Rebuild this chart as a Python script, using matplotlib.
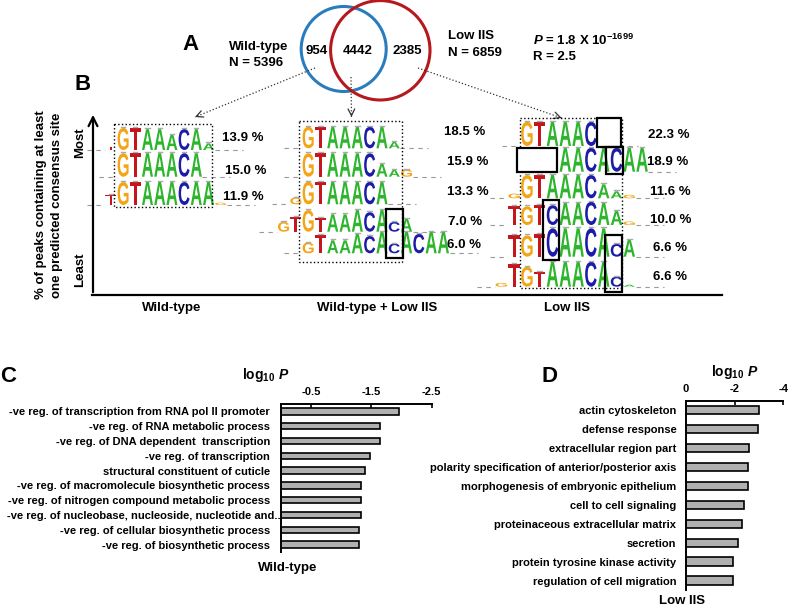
import numpy as np
import matplotlib
matplotlib.use('Agg')
import matplotlib.pyplot as plt
from matplotlib.patches import Circle, Rectangle, PathPatch
from matplotlib.textpath import TextPath
from matplotlib.font_manager import FontProperties
from matplotlib.transforms import Affine2D, ScaledTranslation

plt.rcParams['font.family'] = ['Liberation Sans', 'DejaVu Sans']
plt.rcParams['font.weight'] = 'bold'
plt.rcParams['mathtext.fontset'] = 'custom'
plt.rcParams['mathtext.rm'] = 'Liberation Sans:bold'
plt.rcParams['mathtext.it'] = 'Liberation Sans:italic:bold'
plt.rcParams['mathtext.bf'] = 'Liberation Sans:bold'

# ---- data ----
venn_counts = ['954', '4442', '2385']
wt_n = 5396
low_n = 6859

wt_motifs = ['TGTAAACAA', 'GTAAACA', 'TGTAAACAAG']
wt_start = [-1, 0, -1]
wt_heights = [[0.15, 1, 1, 0.95, 0.95, 0.7, 0.95, 0.95, 0.3],
              [1, 1, 1, 1, 1, 1, 1],
              [0.45, 1, 1, 1, 1, 1, 1, 1, 1, 0.1]]
wt_pct = [13.9, 15.0, 11.9]

both_motifs = ['GTAAACAA', 'GTAAACAAG', 'GGTAAACA', 'GTGTAAACACA', 'GTAAACACACAA']
both_start = [0, 0, -1, -2, 0]
both_heights = [[1, 1, 1, 1, 1, 1, 1, 0.3],
                [1, 1, 1, 1, 1, 1, 0.55, 0.3, 0.3],
                [0.3, 1, 1, 1, 1, 1, 1, 1],
                [0.45, 0.7, 1, 0.65, 0.8, 0.8, 1, 0.9, 1, 0.45, 0.6],
                [0.5, 0.85, 0.6, 0.6, 0.9, 0.8, 1, 0.45, 1, 0.9, 1, 1]]
both_pct = [18.5, 15.9, 13.3, 7.0, 6.0]

low_motifs = ['GTAAACA', 'AACACAA', 'GGTAAACAAG', 'TGTCAACAAG', 'TGTCAACACA', 'GTGTAAACACA']
low_start = [0, 3, -1, -1, -1, -2]
low_heights = [[1, 1, 1, 1, 1, 1, 0.25],
               [1, 1, 1, 1, 1, 1, 1],
               [0.2, 1, 1, 1, 1, 1, 1, 0.6, 0.3, 0.15],
               [0.8, 0.8, 0.85, 0.85, 0.95, 0.95, 1, 0.95, 0.6, 0.15],
               [0.75, 0.75, 0.8, 1, 1, 1, 1, 1, 0.45, 0.6],
               [0.15, 0.9, 0.8, 0.6, 1, 1, 1, 1, 1, 0.4, 0.08]]
low_pct = [22.3, 18.9, 11.6, 10.0, 6.6, 6.6]

go_wt_terms = ['-ve reg. of transcription from RNA pol II promoter',
               '-ve reg. of RNA metabolic process',
               '-ve reg. of DNA dependent  transcription',
               '-ve reg. of transcription',
               'structural constituent of cuticle',
               '-ve reg. of macromolecule biosynthetic process',
               '-ve reg. of nitrogen compound metabolic process',
               '-ve reg. of nucleobase, nucleoside, nucleotide and..',
               '-ve reg. of cellular biosynthetic process',
               '-ve reg. of biosynthetic process']
go_wt_logp = [-1.96, -1.64, -1.64, -1.47, -1.39, -1.32, -1.32, -1.32, -1.30, -1.30]

go_low_terms = ['actin cytoskeleton',
                'defense response',
                'extracellular region part',
                'polarity specification of anterior/posterior axis',
                'morphogenesis of embryonic epithelium',
                'cell to cell signaling',
                'proteinaceous extracellular matrix',
                'secretion',
                'protein tyrosine kinase activity',
                'regulation of cell migration']
go_low_logp = [-3.02, -2.94, -2.57, -2.54, -2.54, -2.40, -2.29, -2.15, -1.95, -1.92]

# ---- figure ----
W, H = 788, 607
fig = plt.figure(figsize=(W / 100, H / 100), dpi=100)
ax = fig.add_axes([0, 0, 1, 1])
ax.set_xlim(0, W)
ax.set_ylim(H, 0)
ax.axis('off')

base_colors = {'A': '#2db52d', 'C': '#1c1ca8', 'G': '#f2a516', 'T': '#c4161c'}
logo_font = FontProperties(family='Liberation Sans', weight='bold')


def draw_letter(ch, x, y0, w, h):
    tp = TextPath((0, 0), ch, size=1, prop=logo_font)
    bb = tp.get_extents()
    tr = Affine2D().translate(-bb.x0, -bb.y0).scale(w / bb.width, -h / bb.height).translate(x, y0)
    ax.add_patch(PathPatch(tr.transform_path(tp), fc=base_colors[ch], ec='none', zorder=3))
    if h > 6:
        ax.plot([x + w * 0.3, x + w * 0.7], [y0 - h - 1, y0 - h - 1], color='#aaaaaa', lw=1.0, zorder=4)


def draw_logos(motifs, starts, heights, pcts, x0, cw, bases, rh, px, py):
    for i in range(len(motifs)):
        for j, ch in enumerate(motifs[i]):
            col = starts[i] + j
            draw_letter(ch, x0 + col * cw + 0.05 * cw, bases[i], cw * 0.9, rh[i] * heights[i][j])
        xa = x0 + starts[i] * cw
        xb = x0 + (starts[i] + len(motifs[i])) * cw
        ax.plot([xa - 18, xa], [bases[i], bases[i]], color='#999999', lw=0.8, dashes=(4, 4), zorder=1)
        ax.plot([xb, xb + 28], [bases[i], bases[i]], color='#999999', lw=0.8, dashes=(4, 4), zorder=1)
        ax.text(px[i], py[i], '%.1f %%' % pcts[i], fontsize=9.5, ha='left', va='center')


# Panel A
ax.text(191, 45, 'A', fontsize=16, ha='center', va='center')
ax.add_patch(Circle((343.7, 49), 42.5, fc='none', ec='#2a7dbc', lw=2.2, zorder=2))
ax.add_patch(Circle((380.3, 50.3), 49.7, fc='none', ec='#b5191e', lw=2.2, zorder=2))
for xc, s in zip([316.7, 358, 407], venn_counts):
    ax.text(xc, 51, s, fontsize=9.5, ha='center', va='center')
ax.text(229, 47, 'Wild-type', fontsize=9.5, ha='left', va='center')
ax.text(229, 63, 'N = %d' % wt_n, fontsize=9.5, ha='left', va='center')
ax.text(448, 36, 'Low IIS', fontsize=9.5, ha='left', va='center')
ax.text(448, 53, 'N = %d' % low_n, fontsize=9.5, ha='left', va='center')
ax.text(533, 40, r'$P$ = 1.8 X 10$^{-1699}$', fontsize=9.5, ha='left', va='center')
ax.text(533, 57, 'R = 2.5', fontsize=9.5, ha='left', va='center')

# dotted connectors
for (xs, ys), (xt, yt) in [((315, 68), (195, 117)), ((351, 77), (351.5, 117)), ((418, 68), (561.7, 118))]:
    ax.plot([xs, xt], [ys, yt], color='#333333', lw=0.9, ls=':', zorder=2)
    ax.annotate('', xy=(xt, yt), xytext=(xt - (xt - xs) * 0.02, yt - (yt - ys) * 0.02),
                arrowprops=dict(arrowstyle='->', color='#333333', lw=0.9, mutation_scale=12))

# Panel B
ax.text(83, 85, 'B', fontsize=16, ha='center', va='center')
ax.annotate('', xy=(93, 112), xytext=(93, 295),
            arrowprops=dict(arrowstyle='->', color='black', lw=1.6, mutation_scale=16))
ax.plot([92.5, 722], [294.5, 294.5], color='black', lw=1.6)
ax.text(80, 143, 'Most', fontsize=9.5, rotation=90, ha='center', va='center')
ax.text(80, 270, 'Least', fontsize=9.5, rotation=90, ha='center', va='center')
ax.text(41, 205, '% of peaks containing at least', fontsize=9.5, rotation=90, ha='center', va='center')
ax.text(57, 205, 'one predicted consensus site', fontsize=9.5, rotation=90, ha='center', va='center')
ax.text(172, 308, 'Wild-type', fontsize=9.5, ha='center', va='center')
ax.text(377, 308, 'Wild-type + Low IIS', fontsize=9.5, ha='center', va='center')
ax.text(567, 308, 'Low IIS', fontsize=9.5, ha='center', va='center')

draw_logos(wt_motifs, wt_start, wt_heights, wt_pct, 117, 12.2,
           [150, 176.7, 205], [22, 23.5, 23], [221.7, 225, 223], [138.3, 171, 196.7])
draw_logos(both_motifs, both_start, both_heights, both_pct, 302, 12.3,
           [148.3, 176.7, 204.3, 231.7, 253.3], [21.6, 23.4, 22.6, 21.7, 21.6],
           [444, 447, 447, 448, 446.7], [131.7, 162.3, 191.7, 221.7, 245])
draw_logos(low_motifs, low_start, low_heights, low_pct, 520.5, 12.8,
           [146, 171.7, 198.3, 225, 256.7, 286.7], [24.3, 24, 23.3, 23.3, 28.4, 25],
           [648, 646.7, 650, 650, 652.7, 653], [135, 162.3, 191.7, 220, 248.3, 276.7])

# dotted frames around the core motif
for l, t, r, b in [(114, 124, 212.3, 207.3), (299.3, 120.7, 402.3, 261.7), (520, 118.3, 621.7, 288.3)]:
    ax.add_patch(Rectangle((l, t), r - l, b - t, fc='none', ec='black', lw=1.0, ls=':', zorder=5))
# solid boxes marking changed positions
for l, t, r, b, fill in [(386, 209, 402.7, 257.7, 'none'),
                         (596.7, 118, 620.7, 146.7, 'white'),
                         (517, 148.3, 557, 171.7, 'white'),
                         (606, 146.7, 622.7, 174.3, 'none'),
                         (542.7, 200, 559.3, 260, 'none'),
                         (605, 235, 621.7, 291.7, 'none')]:
    ax.add_patch(Rectangle((l, t), r - l, b - t, fc=fill, ec='black', lw=1.6, zorder=6))


# Panels C and D
def px_rect(l, t, r, b):
    return [l / W, 1 - b / H, (r - l) / W, (b - t) / H]


def go_bars(rect, terms, vals, xmax, ticks, pad):
    bx = fig.add_axes(rect)
    bx.set_facecolor('none')
    y = np.arange(len(terms))
    bx.barh(y, vals, height=0.44, color='#b0b0b0', edgecolor='black', linewidth=1.2)
    bx.set_xlim(0, xmax)
    bx.set_ylim(len(terms) - 0.5, -0.5)
    bx.set_yticks(y)
    bx.set_yticklabels(terms, fontsize=8, fontweight='bold')
    bx.tick_params(axis='y', length=0, pad=pad)
    bx.xaxis.tick_top()
    bx.set_xticks(ticks)
    bx.set_xticklabels(['%g' % t if t != 0 else '0' for t in ticks], fontsize=8, fontweight='bold')
    bx.tick_params(axis='x', direction='in', length=3, width=1.2, pad=5)
    for s in ['right', 'bottom']:
        bx.spines[s].set_visible(False)
    for s in ['left', 'top']:
        bx.spines[s].set_linewidth(1.4)
    return bx


bc = go_bars(px_rect(281, 404, 431.7, 552), go_wt_terms, go_wt_logp, -2.5, [-0.5, -1.5, -2.5], 8)
# the long truncated term runs over the axis line, as in the original
long_lab = bc.get_yticklabels()[7]
long_lab.set_transform(long_lab.get_transform() + ScaledTranslation(0.11, 0, fig.dpi_scale_trans))
go_bars(px_rect(686, 400.7, 783.3, 590), go_low_terms, go_low_logp, -4, [0, -2, -4], 7)

ax.text(8, 376, 'C', fontsize=16, ha='center', va='center')
ax.text(550, 377, 'D', fontsize=16, ha='center', va='center')
ax.text(266, 375, r'log$_{10}$ $P$', fontsize=10, ha='center', va='center')
ax.text(735, 372, r'log$_{10}$ $P$', fontsize=10, ha='center', va='center')
ax.text(288, 568, 'Wild-type', fontsize=9.5, ha='center', va='center')
ax.text(682, 601, 'Low IIS', fontsize=9.5, ha='center', va='center')

fig.savefig('out.png', dpi=100)
